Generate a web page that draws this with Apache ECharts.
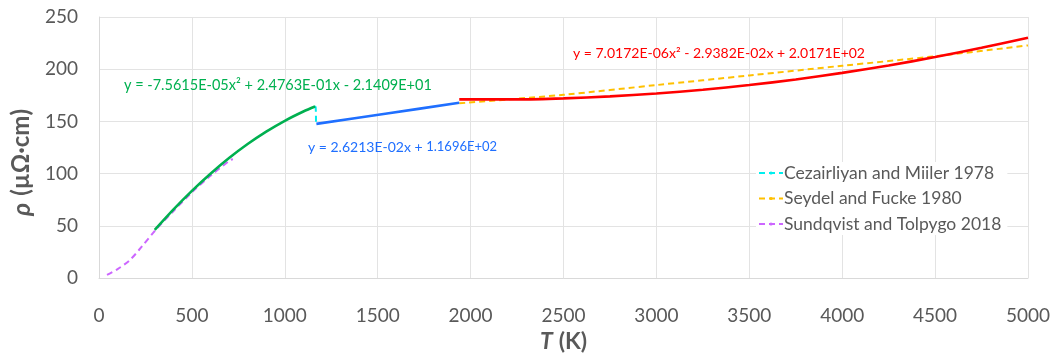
<!DOCTYPE html>
<html>
<head>
<meta charset="utf-8">
<script src="https://cdn.jsdelivr.net/npm/echarts@6/dist/echarts.min.js"></script>
<style>
  html, body { margin: 0; padding: 0; background: #fff; }
  #chart { width: 1055px; height: 354px; }
</style>
</head>
<body>
<div id="chart"></div>
<script>
// trend line (green), 300 - 1163 K
const tGreen = [300, 400, 500, 600, 700, 800, 900, 1000, 1100, 1163];
const rGreen = [46.1, 65.5, 83.5, 99.9, 114.9, 128.3, 140.2, 150.6, 159.5, 164.3];
// trend line (blue)
const tBlue = [1170, 1550, 1939];
const rBlue = [147.6, 157.6, 167.8];
// trend line (red)
const tRed = [1939, 2250, 2500, 2750, 3000, 3250, 3500, 3750, 4000, 4250, 4500, 4750, 5000];
const rRed = [171.1, 171.1, 172.1, 174.0, 176.7, 180.3, 184.8, 190.2, 196.5, 203.6, 211.6, 220.5, 230.2];
// measured data sets (dashed)
const tCez = [1160, 1166, 1168];
const rCez = [164.3, 163.8, 148.3];
const tSey = [1939, 2200, 2500, 3000, 3500, 4000, 4500, 5000];
const rSey = [167.3, 171.0, 175.5, 184.8, 194.0, 203.3, 212.4, 222.8];
const tSun = [43, 100, 165, 230, 300, 400, 500, 600, 700, 720];
const rSun = [3, 8.5, 17, 30, 45, 64, 82, 98, 112, 114];

const zip = (a, b) => a.map((v, i) => [v, b[i]]);
const grey = '#595959';
const font = 'Lato, "Open Sans", sans-serif';

const solid = (name, t, r, color) => ({
    name: name,
    type: 'line',
    data: zip(t, r),
    smooth: 0.3,
    symbol: 'none',
    z: 3,
    lineStyle: { color: color, width: 2.6 }
});
const dashed = (name, t, r, color) => ({
    name: name,
    type: 'line',
    data: zip(t, r),
    smooth: 0.3,
    symbol: 'none',
    z: 2,
    itemStyle: { color: color },
    lineStyle: { color: color, width: 2, type: [6, 4] }
});

const chart = echarts.init(document.getElementById('chart'));
chart.setOption({
    animation: false,
    textStyle: { fontFamily: font },
    grid: { left: 99, right: 27, top: 17, bottom: 76, outerBoundsMode: 'none' },
    legend: {
        orient: 'vertical',
        left: 756,
        top: 162,
        itemWidth: 24,
        itemHeight: 4,
        itemGap: 7.5,
        padding: [2, 6, 2, 2],
        backgroundColor: '#fff',
        data: ['Cezairliyan and Miiler 1978', 'Seydel and Fucke 1980', 'Sundqvist and Tolpygo 2018'],
        textStyle: { color: grey, fontSize: 17.5, lineHeight: 17, fontFamily: font, padding: [0, 0, 0, -4] }
    },
    xAxis: {
        type: 'value',
        min: 0,
        max: 5000,
        interval: 500,
        name: '{i|T}{sp|}{b|(K)}',
        nameLocation: 'middle',
        nameGap: 49,
        nameTextStyle: {
            rich: {
                i: { fontSize: 23, fontWeight: 'bold', fontStyle: 'italic', color: grey, fontFamily: font },
                b: { fontSize: 23, fontWeight: 'bold', color: grey, fontFamily: font },
                sp: { width: 6 }
            }
        },
        axisLine: { show: true, onZero: false, lineStyle: { color: '#d9d9d9' } },
        axisTick: { show: false },
        axisLabel: { color: grey, fontSize: 19, margin: 28, formatter: (v) => String(v) },
        splitLine: { lineStyle: { color: '#e3e3e3' } }
    },
    yAxis: {
        type: 'value',
        min: 0,
        max: 250,
        interval: 50,
        name: '{i|ρ}{sp|}{b|(µΩ·cm)}{s|}',
        nameLocation: 'middle',
        nameRotate: 90,
        nameGap: 64,
        nameTextStyle: {
            rich: {
                i: { fontSize: 25, fontWeight: 'bold', fontStyle: 'italic', color: grey, fontFamily: font },
                b: { fontSize: 24, fontWeight: 'bold', color: grey, fontFamily: font },
                sp: { width: 7 },
                s: { width: 30 }
            }
        },
        axisLine: { show: true, lineStyle: { color: '#d9d9d9' } },
        axisTick: { show: false },
        axisLabel: { color: grey, fontSize: 19, margin: 21 },
        splitLine: { lineStyle: { color: '#e3e3e3' } }
    },
    graphic: [
        {
            type: 'text', left: 124, top: 78, z: 10,
            style: { text: 'y = -7.5615E-05x² + 2.4763E-01x - 2.1409E+01', fill: '#00B050', font: '14.5px ' + font }
        },
        {
            type: 'text', left: 308, top: 140, z: 10,
            style: {
                text: '{a|y = 2.6213E-02x + }{b|1.1696E+02}',
                rich: {
                    a: { fill: '#1F6FFF', fontSize: 14, fontFamily: font },
                    b: { fill: '#1F6FFF', fontSize: 13, fontFamily: font }
                }
            }
        },
        {
            type: 'text', left: 573, top: 46, z: 10,
            style: { text: 'y = 7.0172E-06x² - 2.9382E-02x + 2.0171E+02', fill: '#FF0000', font: '14px ' + font }
        }
    ],
    series: [
        dashed('Sundqvist and Tolpygo 2018', tSun, rSun, '#CC66FF'),
        dashed('Seydel and Fucke 1980', tSey, rSey, '#FFC000'),
        dashed('Cezairliyan and Miiler 1978', tCez, rCez, '#00EEEE'),
        solid('fit1', tGreen, rGreen, '#00B050'),
        solid('fit2', tBlue, rBlue, '#1F6FFF'),
        solid('fit3', tRed, rRed, '#FF0000')
    ]
});
</script>
</body>
</html>
